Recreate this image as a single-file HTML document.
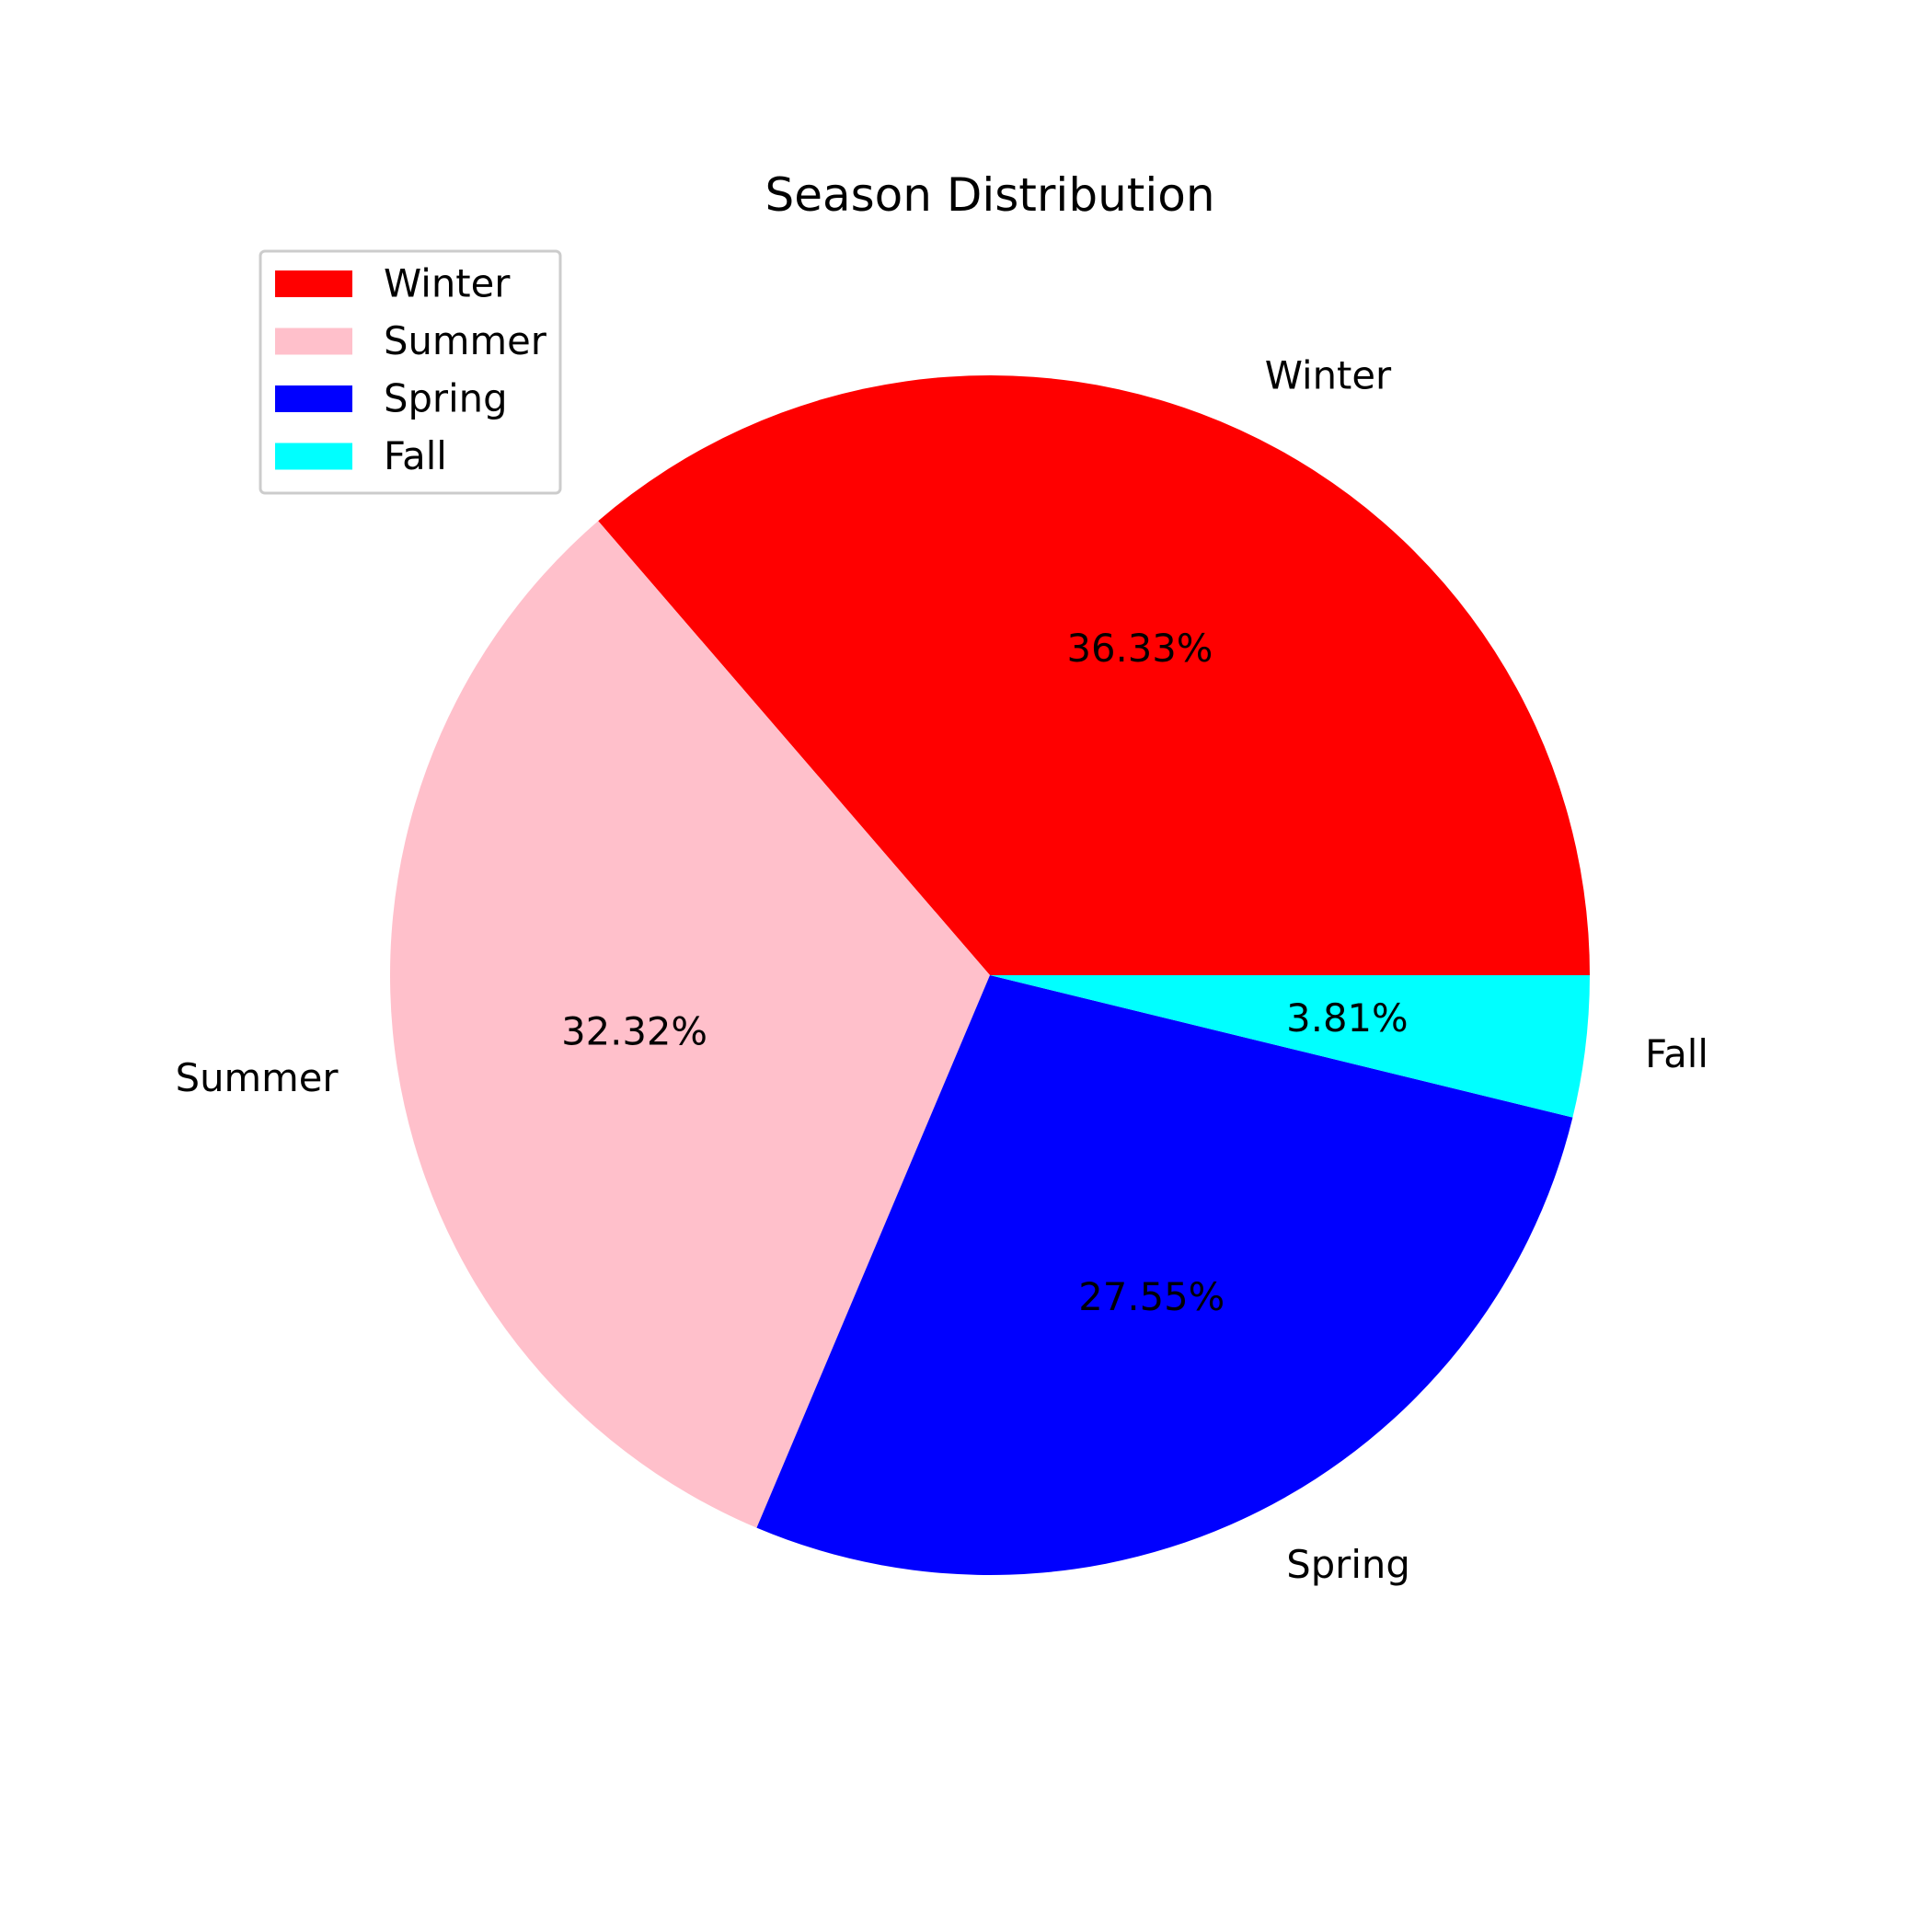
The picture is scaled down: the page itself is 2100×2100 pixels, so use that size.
<!DOCTYPE html>
<html><head><meta charset="utf-8"><style>
html,body{margin:0;padding:0;background:#fff}
svg{display:block;font-family:"DejaVu Sans","Liberation Sans",sans-serif}
</style></head><body>
<svg id="chart" width="2100" height="2100" viewBox="0 0 2100 2100" xmlns="http://www.w3.org/2000/svg">
<rect width="2100" height="2100" fill="#fff"/>
<text x="1076" y="229" font-size="50" text-anchor="middle">Season Distribution</text>
<g id="pie"></g>
<g id="legend"></g>
</svg>
<script>
const categories = ["Winter","Summer","Spring","Fall"];
const values = [36.33, 32.32, 27.55, 3.81];
const colors = ["#ff0000","#ffc0cb","#0000ff","#00ffff"];
const NS = "http://www.w3.org/2000/svg";
const cx = 1076, cy = 1060, r = 652;
const pie = document.getElementById('pie');
const total = values.reduce((a,b)=>a+b,0);
let start = 0;
function pt(a, rr){ return [cx + rr*Math.cos(a), cy - rr*Math.sin(a)]; }
values.forEach((v,i)=>{
  const sweep = v/total*2*Math.PI;
  const end = start + sweep;
  const [x1,y1] = pt(start,r), [x2,y2] = pt(end,r);
  const large = sweep > Math.PI ? 1 : 0;
  const p = document.createElementNS(NS,'path');
  p.setAttribute('d',`M${cx},${cy} L${x1},${y1} A${r},${r} 0 ${large} 0 ${x2},${y2} Z`);
  p.setAttribute('fill',colors[i]);
  
  
  pie.appendChild(p);
  const mid = start + sweep/2;
  const [lx,ly] = pt(mid, r*1.1);
  const t = document.createElementNS(NS,'text');
  t.setAttribute('x',lx); t.setAttribute('y',ly);
  t.setAttribute('font-size','41.7');
  t.setAttribute('dominant-baseline','central');
  t.setAttribute('text-anchor', Math.cos(mid) > 0 ? 'start' : 'end');
  t.textContent = categories[i];
  
  
  pie.appendChild(t);
  const [px,py] = pt(mid, r*0.6);
  const q = document.createElementNS(NS,'text');
  q.setAttribute('x',px); q.setAttribute('y',py);
  q.setAttribute('font-size','41.7');
  q.setAttribute('dominant-baseline','central');
  q.setAttribute('text-anchor','middle');
  q.textContent = (v/total*100).toFixed(2)+'%';
  
  
  pie.appendChild(q);
  start = end;
});
const lg = document.getElementById('legend');
const box = document.createElementNS(NS,'rect');
box.setAttribute('x',283); box.setAttribute('y',273); box.setAttribute('width',326); box.setAttribute('height',263);
box.setAttribute('rx',5); box.setAttribute('fill','#fff'); box.setAttribute('fill-opacity','0.8');
box.setAttribute('stroke','#cccccc'); box.setAttribute('stroke-width','3');


lg.appendChild(box);
categories.forEach((c,i)=>{
  const y = 308 + i*62.5;
  const h = document.createElementNS(NS,'rect');
  h.setAttribute('x',299); h.setAttribute('y',y-14); h.setAttribute('width',84); h.setAttribute('height',29);
  h.setAttribute('fill',colors[i]);
  
  
  lg.appendChild(h);
  const t = document.createElementNS(NS,'text');
  t.setAttribute('x',417); t.setAttribute('y',y);
  t.setAttribute('font-size','41.7'); t.setAttribute('dominant-baseline','central');
  t.textContent = c;
  
  
  lg.appendChild(t);
});
</script>
</body></html>
